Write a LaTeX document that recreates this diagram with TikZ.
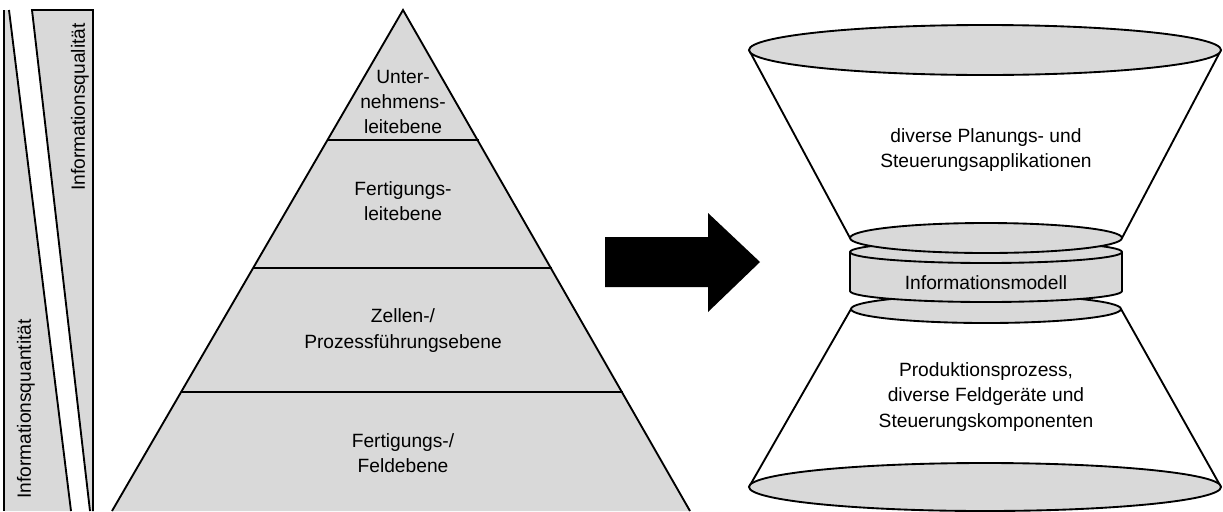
\documentclass[tikz,border=0pt]{standalone}
\usepackage{fontspec}
\setmainfont{Liberation Sans}
\usetikzlibrary{calc}
\definecolor{fillgray}{RGB}{217,217,217}
\tikzset{
  grayshape/.style={draw=black, line width=1.4pt, fill=fillgray, line join=miter},
  edge/.style={draw=black, line width=1.4pt},
  lbl/.style={font=\fontsize{14.4pt}{18.8pt}\selectfont, align=center, inner sep=0pt},
}
\begin{document}
\begin{tikzpicture}[x=0.75pt, y=-0.75pt]
\useasboundingbox (0,0) rectangle (1223,511);
% left strips
\fill[fillgray] (4,511) -- (4,10) -- (9,10) -- (71,511) -- cycle;
\draw[edge, line width=1pt] (4,511) -- (4,10);
\draw[edge] (9,10) -- (71,511);
\fill[fillgray] (90,511) -- (32,10) -- (93,10) -- (93,511) -- cycle;
\draw[edge] (90,511) -- (32,10) -- (93,10) -- (93,511);
\node[lbl, rotate=90] (quant) at (26,409) {Informationsquantität};
\node[lbl, rotate=90] (qual) at (80,107) {Informationsqualität};
% pyramid
\coordinate (apex) at (403,10);
\coordinate (bl) at (112,511);
\coordinate (br) at (690,511);
\fill[fillgray] (bl) -- (apex) -- (br) -- cycle;
\draw[edge, line join=miter] (bl) -- (apex) -- (br);
\draw[edge] (327.5,140) -- (478.5,140);
\draw[edge] (253,268) -- (551.5,268);
\draw[edge] (181,392) -- (622.5,392);
\node[lbl] (l1) at (403,102) {Unter-\\nehmens-\\leitebene};
\node[lbl] (l2) at (403,201) {Fertigungs-\\leitebene};
\node[lbl] (l3) at (403,330.5) {Zellen-/\\Prozessführungsebene};
\node[lbl] (l4) at (403,453.5) {Fertigungs-/\\Feldebene};
% arrow
\fill[black] (605,237) -- (708,237) -- (708,213) -- (760,262) -- (708,312) -- (708,287) -- (605,287) -- cycle;
% hourglass
\coordinate (tl) at (749,50);
\coordinate (tr) at (1221,50);
\coordinate (ml1) at (850,238);
\coordinate (mr1) at (1122,238);
\coordinate (ml2) at (851,309);
\coordinate (mr2) at (1121,309);
\coordinate (bl2) at (749,487);
\coordinate (br2) at (1221,487);
\draw[edge] (tl) -- (ml1);
\draw[edge] (tr) -- (mr1);
\draw[edge] (ml2) -- (bl2);
\draw[edge] (mr2) -- (br2);
\path[grayshape] (985,50) ellipse [x radius=236, y radius=25];
\path[grayshape] (985,487) ellipse [x radius=236, y radius=24];
\path[grayshape] (986,309) ellipse [x radius=135, y radius=14];
% cylinder
\path[grayshape] (850,252) -- (850,291) arc[start angle=180, end angle=0, x radius=136, y radius=11] -- (1122,252) arc[start angle=0, end angle=-180, x radius=136, y radius=11] -- cycle;
\draw[edge] (850,252) arc[start angle=180, end angle=0, x radius=136, y radius=11];
\path[grayshape] (986,238) ellipse [x radius=136, y radius=15];
\node[lbl] (im) at (986,283) {Informationsmodell};
\node[lbl] (top) at (986,150) {diverse Planungs- und\\Steuerungsapplikationen};
\node[lbl] (bot) at (986,397) {Produktionsprozess,\\diverse Feldgeräte und\\Steuerungskomponenten};
\end{tikzpicture}
\end{document}
